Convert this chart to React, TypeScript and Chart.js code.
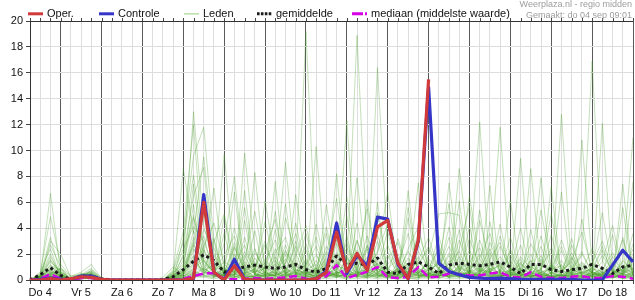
import React, { useEffect, useRef } from 'react';
import { Chart, registerables } from 'chart.js';

Chart.register(...registerables);

// ---- data -------------------------------------------------------------
// 6-hourly steps, 60 points; day labels sit on the noon step of each day
const dayLabels = ['Do 4', 'Vr 5', 'Za 6', 'Zo 7', 'Ma 8', 'Di 9', 'Wo 10', 'Do 11', 'Vr 12', 'Za 13', 'Zo 14', 'Ma 15', 'Di 16', 'Wo 17', 'Do 18'];
const stepsPerDay = 4;
const labelStep = 1; // noon step inside each day
const dayBoundaryStep = 3; // midnight step inside each day
const yMax = 20;
const yStep = 2;

const oper: (number | null)[] = [
  0, 0, 0.1, 0, 0.1, 0.25, 0.2, 0.05, 0, 0, 0, 0, 0, 0, 0, 0,
  0.15, 6.0, 0.6, 0, 1.1, 0.05, 0, 0, 0, 0, 0, 0, 0.1, 0.6, 3.7, 0.65,
  2.05, 0.75, 4.1, 4.6, 1.3, 0.1, 3.1, 15.5,
  null, null, null, null, null, null, null, null, null, null,
  null, null, null, null, null, null, null, null, null, null,
];

const controle: number[] = [
  0, 0.05, 0.15, 0.05, 0.05, 0.3, 0.3, 0.05, 0, 0, 0, 0, 0, 0, 0, 0,
  0.1, 6.6, 0.6, 0, 1.6, 0.05, 0, 0, 0, 0, 0, 0, 0.1, 0.7, 4.4, 0.5,
  1.9, 1.1, 4.85, 4.7, 1.2, 0.1, 3.0, 14.9, 1.3, 0.65, 0.4, 0.2, 0.15, 0.1, 0.15, 0.1,
  0.05, 0.05, 0.05, 0.05, 0.05, 0.05, 0, 0, 0, 1.15, 2.3, 1.4,
];

const gemiddelde: number[] = [
  0, 0.4, 0.95, 0.35, 0.05, 0.3, 0.3, 0.1, 0, 0, 0, 0, 0, 0.02, 0.25, 0.8,
  1.45, 1.95, 1.5, 0.6, 0.85, 1.0, 1.15, 1.0, 0.9, 1.0, 1.2, 0.8, 0.6, 0.9, 1.85, 1.15,
  1.3, 1.15, 1.7, 0.6, 0.5, 1.2, 1.4, 1.0, 0.5, 1.15, 1.3, 1.2, 1.1, 1.2, 1.4, 1.0,
  0.5, 1.2, 1.2, 0.8, 0.65, 0.8, 0.9, 1.2, 0.9, 0.5, 1.0, 1.15,
];

const mediaan: number[] = [
  0, 0.1, 0.45, 0.1, 0, 0.15, 0.15, 0, 0, 0, 0, 0, 0, 0, 0, 0.1,
  0.3, 0.5, 0.55, 0.1, 0.05, 0.1, 0.15, 0.1, 0.15, 0.2, 0.3, 0.1, 0.05, 0.3, 1.15, 0.15,
  0.4, 0.65, 1.0, 0.2, 0.15, 0.25, 1.0, 0.2, 0.25, 0.5, 0.45, 0.35, 0.35, 0.5, 0.6, 0.25,
  0.2, 0.6, 0.25, 0.15, 0.15, 0.25, 0.3, 0.15, 0.15, 0.3, 0.25, 0.1,
];

// ensemble members ("Leden"), one row per member, 15 days x 4 steps
const leden: number[][] = [
  [0,0.2,6.7,0.5, 0,0.2,0.4,0, 0,0,0,0, 0,0,0.2,1.5, 13.0,4.2,1.0,0.3, 2.5,0.8,0.2,1.4, 3.1,0.5,0,0.8, 1.2,0.4,2.8,0.6, 0.2,1.0,3.5,0.9, 0.3,2.4,4.1,0.8, 0.2,1.5,0.6,3.2, 1.0,0.3,0,2.4, 0.8,0.2,1.6,0.4, 0,0.9,2.2,0.5, 0.3,1.8,0.6,2.0],
  [0,0.5,4.9,1.2, 0.3,0.6,1.2,0.1, 0,0,0,0, 0,0,0.4,8.6, 3.6,9.5,2.1,0.5, 0.4,1.6,5.3,0.9, 0.3,2.2,1.0,19.2, 2.0,0.5,1.4,0.2, 0.9,2.6,1.1,0.3, 0,0.6,1.5,3.3, 0.7,0.2,1.2,0.5, 4.6,1.3,0.2,0.9, 0.1,0.5,3.4,0.7, 1.5,0.4,0,0.8, 2.6,0.5,0.2,0.7],
  [0,0.3,3.3,0.4, 0,0.3,0.5,0, 0,0.1,0,0, 0,0,0.8,3.7, 12.0,1.4,0.6,9.7, 1.2,0.3,0.9,2.7, 0.6,4.8,2.0,0.4, 0,1.9,6.3,1.1, 18.9,2.1,0.7,0.3, 0.8,0.2,0,1.9, 5.1,5.2,5.0,0.4, 0.3,0.8,1.1,0.2, 0,0.6,0.3,1.2, 0.5,1.7,0.4,0, 0.2,0.9,3.1,0.4],
  [0,0.1,3.0,2.0, 0.2,0.4,0.6,0, 0,0,0,0, 0,0,0,3.2, 9.6,11.8,3.0,0.2, 0,0.5,1.3,0.4, 2.4,0.9,0.3,1.6, 0.5,0.2,0.9,2.9, 0.6,0.3,16.4,2.2, 0.4,1.1,0.6,0.2, 1.8,0.4,8.6,2.0, 0.5,2.9,1.0,0.3, 1.4,0.2,0,0.6, 0.3,0.7,1.9,16.9, 1.5,0.2,0.5,0.9],
  [0,0.4,2.0,0.3, 0,0.2,0.3,0, 0,0,0,0, 0,0,0.1,2.0, 6.5,8.7,0.8,1.0, 4.0,1.1,0.5,0, 0.9,0.2,6.6,1.3, 0.7,3.6,0.4,0, 1.4,5.5,0.9,0.2, 0.1,0.7,7.5,0.5, 0.3,1.0,0.2,1.1, 12.2,0.6,0.2,1.5, 0.4,0.1,0.8,2.5, 0.9,0.2,0.6,0.3, 0.7,0.3,1.4,11.0],
  [0,0.2,1.5,0.6, 0,0.1,0.8,0.2, 0,0,0,0, 0,0.2,1.0,0.5, 3.0,6.4,1.6,0.4, 0.2,9.8,2.3,0.6, 0.1,0.5,1.2,0.3, 4.3,0.8,0.2,1.7, 0.4,1.2,2.0,6.8, 0.6,0.3,1.8,0.1, 0.9,2.6,0.8,0.3, 0.2,1.1,11.8,0.6, 0.3,1.5,0.2,0.1, 12.8,0.5,0.1,0.6, 0.2,0.6,0.8,0.3],
  [0,0.6,2.4,0.2, 0,0.5,0.4,0, 0,0,0,0, 0,0,0.3,0.6, 2.2,3.4,0.4,2.8, 8.0,0.6,0.2,1.1, 0.4,1.3,3.6,0.7, 0.2,0.5,1.3,0.4, 3.1,0.6,0.4,1.6, 2.9,0.4,0.6,0.9, 0.2,7.5,1.4,0.6, 0.9,0.3,0.6,0.2, 1.8,0.9,0.3,0.1, 0.4,0.2,10.8,1.3, 0.5,0.2,0.3,1.6],
  [0,0.3,1.8,0.4, 0,0.3,0.2,0, 0,0,0,0, 0,0,0.6,1.2, 4.8,2.0,7.1,0.6, 0.3,0.2,0.7,4.5, 1.0,9.1,0.8,0.5, 0.3,1.1,2.1,0.9, 0.2,0.8,0.5,0.3, 1.2,3.6,0.7,0.4, 0.1,0.4,0.9,6.5, 1.6,0.5,0.1,0.8, 0.5,8.6,0.7,0.2, 0.1,0.9,0.4,0.2, 12.1,0.8,0.1,0.4],
  [0,0.1,1.2,0.2, 0,0.2,0.5,0.1, 0,0,0,0, 0,0,0,0.4, 1.3,5.2,0.3,0.9, 0.6,3.3,0.4,0.2, 0.5,0.3,1.9,4.2, 0.8,0.3,0.4,0.2, 7.9,0.4,0.2,0.9, 0.3,0.6,2.2,1.0, 0.4,0.3,0.5,0.2, 0.6,7.3,0.3,0.5, 2.7,0.4,0.1,0.6, 0.2,0.5,1.1,0.3, 0.4,3.5,0.2,0.6],
  [0,0.2,0.9,0.5, 0,0.4,0.3,0, 0,0,0,0, 0,0,0.2,0.9, 7.4,1.1,0.2,0.4, 1.6,0.4,8.3,0.7, 0.2,0.8,0.4,0.6, 0.1,5.8,0.9,12.3, 0.6,0.2,1.3,0.5, 0.2,0.9,0.3,0.6, 3.4,0.6,0.2,0.8, 0.3,0.4,2.6,0.9, 0.2,0.3,0.9,5.1, 0.7,1.4,0.3,0.1, 0.6,0.2,0.9,0.5],
  [0,0.4,0.7,0.1, 0,0.2,0.1,0, 0,0,0,0, 0,0,0.5,0.3, 0.8,2.6,4.4,1.2, 0.5,0.2,0.3,6.1, 1.4,0.6,0.2,0.9, 0.6,0.4,8.2,0.5, 0.3,0.1,0.6,0.3, 0.5,0.2,1.3,2.4, 0.6,4.1,0.3,0.2, 0.4,0.9,0.5,6.2, 0.3,0.6,0.2,0.5, 2.3,0.3,0.6,0.9, 0.3,0.7,0.4,0.2],
  [0,0.1,0.6,0.3, 0,0.1,0.2,0, 0,0,0,0, 0,0,0,0.2, 0.5,0.9,0.4,0.2, 0.9,5.6,0.5,0.3, 7.6,0.3,0.6,0.2, 0.4,0.9,0.3,3.4, 0.2,2.7,0.4,0.1, 0.3,6.9,0.2,0.5, 0.3,0.6,3.9,0.2, 0.8,0.2,0.4,0.3, 9.4,0.2,0.5,0.3, 0.4,0.1,0.3,0.6, 0.2,0.4,5.6,0.3],
  [0,0.3,0.5,0.1, 0,0.3,0.4,0, 0,0,0.1,0, 0,0,0.1,0.5, 2.9,0.5,1.3,0.3, 0.2,0.6,3.8,0.2, 0.4,2.7,0.5,0.3, 0.9,0.2,0.5,0.8, 0.4,0.5,5.2,0.7, 0.2,4.8,0.4,0.3, 0.5,0.3,0.2,0.7, 0.2,0.6,4.3,0.4, 0.6,0.3,0.1,0.2, 0.5,3.2,0.2,0.4, 0.3,0.1,0.6,0.8],
  [0,0.1,0.4,0, 0,0.2,0.3,0, 0,0,0,0, 0,0,0.4,0.7, 1.9,0.3,0.2,0.5, 0.3,0.2,0.4,0.3, 0.6,0.4,3.0,0.4, 10.3,0.5,0.2,0.6, 0.3,0.7,0.3,0.2, 0.7,0.3,0.5,0.4, 0.2,0.4,0.6,0.3, 0.5,0.2,0.8,0.2, 0.4,0.2,0.6,0.3, 0.2,0.6,0.3,0.5, 0.4,1.2,0.3,0.2],
  [0,0.2,0.3,0.2, 0,0.1,0.2,0, 0,0,0,0, 0,0,0,0.1, 0.6,0.4,0.9,0.2, 0.1,0.3,0.2,0.5, 0.3,0.2,0.4,0.6, 0.2,0.7,0.3,0.2, 0.5,0.2,0.9,0.4, 0.1,0.5,0.3,0.2, 0.4,0.2,0.3,0.5, 0.3,0.1,0.2,0.6, 0.2,0.4,0.3,0.1, 0.6,0.2,0.4,0.3, 0.2,0.5,0.1,0.3],
  [0,0,0.2,0, 0,0.1,0.1,0, 0,0,0,0, 0,0,0,0, 0.4,0.8,0.3,0.1, 0.7,0.2,0.1,0.3, 0.2,0.5,0.1,0.3, 0.1,0.2,0.6,0.3, 0.2,0.3,0.2,0.5, 0.6,0.2,0.1,0.3, 0.2,0.5,0.3,0.1, 0.7,0.3,0.2,0.1, 0.3,0.1,0.4,0.2, 0.1,0.3,0.2,0.4, 0.6,0.2,0.3,0.1],
  [0,0.2,0.8,0.3, 0,0.2,0.2,0, 0,0,0,0, 0,0,0,0.3, 1.1,0.6,0.5,3.6, 0.4,0.9,0.6,0.2, 1.8,0.4,0.3,0.2, 0.5,2.2,0.4,0.7, 1.9,0.3,0.8,3.8, 0.5,0.2,0.4,0.2, 0.3,0.9,0.4,0.6, 2.0,0.5,0.3,0.4, 0.2,1.1,0.4,0.3, 0.3,0.4,0.9,0.2, 0.5,0.3,0.2,2.8],
  [0,0.1,0.5,0.2, 0,0.1,0.3,0, 0,0,0,0, 0,0,0.1,0.2, 0.9,1.8,0.6,0.3, 2.0,0.3,0.7,0.4, 0.3,0.7,0.2,0.5, 0.3,0.4,1.0,0.2, 0.7,0.4,0.3,0.6, 0.4,1.7,0.3,0.8, 1.2,0.2,0.5,0.4, 0.2,0.9,0.3,0.7, 0.8,0.2,1.9,0.4, 0.4,0.2,0.5,0.7, 0.2,0.6,0.3,0.4],
  [0,0.3,1.0,0.6, 0.1,0.3,0.6,0, 0,0,0,0, 0,0.1,0.3,0.8, 2.4,0.7,0.3,0.2, 0.8,0.4,0.2,1.0, 0.5,0.2,0.8,0.4, 1.5,0.3,0.6,0.4, 0.3,1.5,0.3,0.5, 0.2,0.3,0.9,0.4, 0.6,0.3,1.8,0.5, 0.4,0.7,0.2,0.3, 0.6,0.4,0.2,0.8, 0.3,0.8,0.2,0.3, 0.9,0.2,0.4,0.5],
  [0,0.1,0.3,0.1, 0,0.2,0.1,0, 0,0,0,0, 0,0,0,0.1, 0.3,0.2,0.1,0.2, 0.2,0.1,0.2,0.1, 0.1,0.2,0.3,0.1, 0.2,0.1,0.2,0.1, 0.1,0.2,0.1,0.2, 0.1,0.1,0.2,0.1, 0.2,0.1,0.1,0.2, 0.1,0.2,0.1,0.1, 0.1,0.1,0.2,0.1, 0.2,0.1,0.1,0.2, 0.1,0.2,0.1,0.1],
  [0,0.2,0.4,0.9, 0.3,0.4,0.7,0.1, 0,0,0,0, 0,0,0.2,0.4, 1.6,3.9,2.5,0.6, 0.4,2.2,0.8,3.0, 0.7,1.6,0.4,2.3, 0.6,1.2,0.3,1.8, 0.4,2.4,0.6,0.9, 1.6,0.5,2.8,0.6, 0.2,1.3,2.2,0.4, 3.1,0.6,1.2,0.4, 0.9,2.0,0.3,1.1, 0.6,1.8,0.4,1.0, 0.3,1.4,0.6,3.6],
  [0,0.1,0.2,0.1, 0,0.3,0.4,0, 0,0,0,0, 0,0,0.2,0.6, 3.3,1.2,0.7,1.4, 0.9,0.3,1.7,0.5, 3.9,0.5,1.1,0.3, 0.8,0.4,3.1,0.6, 0.5,0.3,1.2,0.4, 0.9,1.2,0.4,0.3, 2.7,0.5,0.8,1.5, 0.4,2.1,0.5,0.8, 0.3,0.7,2.6,0.4, 1.2,0.3,0.8,2.4, 0.6,0.3,1.5,0.7],
  [0,0.2,0.6,0.2, 0,0.2,0.3,0, 0,0,0,0, 0,0,0.1,0.3, 0.7,0.4,1.9,0.5, 2.9,0.7,0.3,0.6, 0.3,2.0,0.5,0.7, 0.4,0.2,0.6,1.2, 2.3,0.5,1.6,0.3, 0.7,0.3,0.5,1.4, 0.4,1.9,0.3,0.6, 1.3,0.3,0.7,2.2, 0.5,0.2,0.6,0.3, 0.8,2.1,0.5,0.4, 1.0,0.4,0.7,0.3],
  [0,0.1,0.3,0.4, 0.1,0.2,0.2,0, 0,0,0,0, 0,0,0,0.2, 0.5,2.3,0.4,0.2, 0.6,1.2,0.4,0.3, 0.9,0.3,0.7,1.1, 2.6,0.6,0.3,0.5, 0.3,0.9,0.4,1.9, 0.4,0.7,0.3,0.6, 0.6,0.2,1.1,0.3, 0.5,1.4,0.3,0.6, 1.3,0.5,0.8,0.2, 0.4,0.6,1.3,0.5, 0.3,0.8,0.4,1.2],
  [0,0.3,1.4,0.7, 0,0.3,0.5,0, 0,0,0,0, 0,0,0.6,0.9, 5.8,0.6,0.3,0.4, 0.2,0.5,0.9,0.3, 0.4,0.6,0.3,0.5, 0.3,0.5,0.4,0.3, 0.6,0.3,0.5,0.4, 0.3,0.4,0.6,0.2, 0.5,0.7,0.4,0.3, 0.7,0.2,0.5,0.4, 0.4,0.5,0.3,0.6, 0.2,0.4,0.6,0.5, 0.4,0.3,0.5,0.2],
  [0,0.2,0.5,0.2, 0,0.4,0.9,0, 0,0,0,0, 0,0,0.3,0.5, 1.8,0.5,3.2,0.4, 0.3,4.6,0.4,0.2, 0.5,0.2,0.4,2.8, 0.4,0.3,0.5,4.9, 0.6,0.4,0.2,0.3, 0.3,5.6,0.8,0.3, 0.5,0.2,0.3,4.2, 0.3,0.4,0.2,0.5, 0.2,3.9,0.4,0.3, 6.8,0.3,0.2,0.4, 0.5,0.2,7.4,0.3],
  [0,0.1,0.3,0.1, 0,0.1,0.2,0, 0,0,0,0, 0,0,0.1,0.2, 0.4,0.3,0.2,4.9, 0.5,0.2,0.3,0.6, 5.3,0.4,0.2,0.3, 0.6,0.2,0.3,0.4, 0.3,6.2,0.4,0.2, 0.5,0.3,0.2,0.4, 0.3,0.5,6.1,0.3, 0.2,0.6,0.3,0.4, 0.5,0.3,0.4,7.2, 0.3,0.5,0.2,0.3, 0.2,0.4,0.3,7.6],
  [0,0.2,0.4,0.3, 0,0.2,0.3,0, 0,0,0,0, 0,0,0.2,0.3, 0.6,0.4,0.3,0.7, 6.8,0.3,0.2,0.4, 0.3,5.9,0.4,0.2, 0.3,0.4,0.2,0.5, 0.4,0.2,6.0,0.3, 0.2,0.4,0.3,0.5, 0.4,0.3,0.5,0.2, 5.4,0.3,0.4,0.2, 0.3,0.4,0.2,0.3, 0.4,0.2,4.7,0.3, 0.3,0.5,0.2,0.4],
  [0,0.1,0.2,0.5, 0,0.1,0.4,0, 0,0,0,0, 0,0,0,0.1, 0.2,0.3,0.5,0.4, 0.3,0.5,0.2,0.4, 0.4,0.3,0.5,0.3, 0.2,0.4,0.3,0.2, 0.3,0.2,0.4,0.3, 0.2,0.3,0.2,0.5, 0.3,0.6,0.2,0.3, 0.4,0.2,0.3,0.5, 0.2,0.3,0.5,0.2, 0.4,0.3,0.2,0.3, 0.3,0.2,0.4,0.5],
  [0,0.3,0.7,0.4, 0,0.2,0.3,0, 0,0,0,0, 0,0,0.3,0.4, 2.7,1.5,0.5,0.3, 0.4,0.6,2.4,0.5, 0.6,0.3,0.6,0.4, 0.3,0.6,0.4,0.3, 4.4,0.5,0.3,0.4, 0.3,0.5,0.4,0.3, 0.4,0.3,0.4,0.6, 0.3,4.5,0.4,0.3, 0.5,0.3,0.4,0.3, 0.3,0.4,0.3,0.6, 0.4,0.3,3.3,0.4],
  [0,0.4,1.1,0.8, 0,0.3,0.6,0, 0,0,0,0, 0,0,0.5,2.4, 4.1,3.0,0.8,1.9, 3.4,0.7,1.2,0.5, 2.1,3.3,0.6,1.0, 0.4,2.6,1.5,0.6, 3.0,0.8,2.2,4.3, 1.1,0.5,3.8,0.9, 2.4,0.6,3.1,0.8, 1.7,3.6,0.5,1.9, 0.6,2.8,1.3,0.5, 3.1,0.8,2.0,0.6, 1.4,4.2,0.7,1.8],
  [0,0.2,0.8,0.3, 0,0.2,0.4,0, 0,0,0,0, 0,0,0.3,1.1, 2.6,5.5,1.4,0.6, 1.1,2.7,0.5,1.6, 0.6,1.3,4.4,0.8, 1.9,0.5,0.8,2.5, 0.7,3.4,0.6,1.2, 2.0,0.4,1.1,2.6, 0.8,3.3,0.7,1.4, 2.5,0.6,1.8,0.7, 4.0,0.5,1.2,2.1, 0.6,1.5,3.7,0.8, 2.3,0.6,1.1,0.9],
  [0,0.1,0.5,0.9, 0,0.1,0.3,0, 0,0,0,0, 0,0,0.1,0.5, 1.2,0.8,2.9,5.1, 1.3,0.4,2.1,0.8, 1.5,0.5,0.9,3.6, 0.8,4.1,0.6,0.4, 1.7,0.6,0.9,0.5, 3.2,0.8,0.5,1.6, 0.9,0.4,2.4,5.7, 0.6,1.6,2.9,0.5, 1.2,0.7,5.4,1.0, 0.5,2.7,0.6,1.3, 3.0,0.9,0.5,1.7],
  [0,0.3,1.6,0.2, 0,0.4,0.2,0, 0,0,0,0, 0,0,0.2,0.7, 3.8,1.6,0.5,0.8, 0.6,1.9,0.4,2.2, 4.7,0.8,1.4,0.5, 0.9,0.6,4.6,1.3, 0.5,1.8,0.7,2.7, 0.6,2.2,0.9,0.4, 1.5,0.7,0.6,2.3, 0.8,2.4,0.6,3.3, 0.7,1.5,0.4,0.9, 2.6,0.6,1.4,0.5, 0.8,2.1,0.5,1.3],
  [0,0.2,0.4,0.6, 0.2,0.5,0.3,0, 0,0,0,0, 0,0,0.4,1.8, 5.0,0.9,0.4,0.6, 2.6,0.5,0.8,0.4, 0.7,2.3,0.5,1.2, 3.3,0.7,0.5,0.9, 1.2,0.4,3.0,0.6, 0.4,1.3,0.6,0.8, 0.5,2.1,0.9,0.6, 1.0,0.5,3.4,0.8, 1.6,0.6,0.8,3.5, 0.7,0.5,1.2,0.6, 1.9,0.7,0.5,2.4],
  [0,0.1,0.3,0.2, 0,0.1,0.2,0, 0,0,0,0, 0,0,0.1,0.4, 0.9,1.5,0.6,0.3, 0.5,0.8,1.4,0.6, 0.3,0.9,0.5,0.7, 0.6,0.3,1.1,0.8, 0.4,1.0,0.5,0.3, 0.9,0.6,1.4,0.5, 0.7,0.4,1.0,0.6, 0.5,1.2,0.4,0.7, 0.9,0.5,0.6,1.0, 0.4,0.8,0.5,0.9, 0.6,0.4,1.1,0.5],
  [0,0.2,0.6,0.4, 0,0.2,0.5,0, 0,0,0,0, 0,0,0.2,0.6, 1.5,0.7,1.2,0.9, 0.4,1.4,0.6,0.9, 1.2,0.4,0.8,0.5, 0.7,1.6,0.5,0.9, 0.6,0.8,1.3,0.5, 0.8,0.5,0.7,1.2, 0.6,0.9,0.5,1.1, 0.8,0.6,1.3,0.5, 0.7,1.0,0.6,0.8, 1.1,0.5,0.9,0.6, 0.5,1.2,0.7,0.9],
  [0,0.3,2.7,1.0, 0,0.3,0.7,0.1, 0,0,0,0, 0,0,0.7,2.9, 8.1,2.4,0.7,0.4, 1.0,6.9,0.6,1.3, 0.5,0.7,2.6,0.6, 0.5,1.4,0.6,6.4, 0.9,0.5,0.8,0.6, 0.4,0.9,0.5,0.7, 1.3,5.9,0.6,0.5, 0.8,0.5,0.7,0.6, 0.4,0.6,7.9,0.5, 0.7,0.4,0.6,0.8, 5.2,0.6,0.5,0.7],
];

const headerLines = ['Weerplaza.nl - regio midden', 'Gemaakt: do 04 sep 09:01'];

// ---- styles -----------------------------------------------------------
const FONT = 'Arial, "Liberation Sans", sans-serif';
const RED = '#d13a3a';
const BLUE = '#3535c8';
const BLACK = '#1a1a1a';
const MAGENTA = '#d800e6';
const MEMBER = 'rgba(70,160,40,0.32)';
const MEMBER_LEGEND = '#b9dfaa';

const legendItems = [
  { label: 'Oper.', color: RED, width: 3, dash: [] as number[], x: 28 },
  { label: 'Controle', color: BLUE, width: 3, dash: [] as number[], x: 99 },
  { label: 'Leden', color: MEMBER_LEGEND, width: 1.5, dash: [] as number[], x: 184 },
  { label: 'gemiddelde', color: BLACK, width: 3, dash: [2.6, 1.3], x: 257 },
  { label: 'mediaan (middelste waarde)', color: MAGENTA, width: 3, dash: [11, 2, 2, 4], x: 352 },
];

const xLabels = Array.from({ length: dayLabels.length * stepsPerDay }, (_, i) =>
  i % stepsPerDay === labelStep ? dayLabels[Math.floor(i / stepsPerDay)] : ''
);

const overlayPlugin = {
  id: 'overlay',
  afterDraw(chart: any) {
    const { ctx, chartArea, scales } = chart;
    ctx.save();
    // small tick marks above the top border
    ctx.strokeStyle = '#444';
    ctx.lineWidth = 1;
    for (let i = 0; i < xLabels.length; i++) {
      const x = Math.round(scales.x.getPixelForValue(i)) + 0.5;
      ctx.beginPath();
      ctx.moveTo(x, chartArea.top - 3);
      ctx.lineTo(x, chartArea.top);
      ctx.stroke();
    }
    // legend
    ctx.font = `11px ${FONT}`;
    ctx.textBaseline = 'alphabetic';
    ctx.textAlign = 'left';
    for (const it of legendItems) {
      ctx.beginPath();
      ctx.setLineDash(it.dash);
      ctx.lineCap = 'butt';
      ctx.strokeStyle = it.color;
      ctx.lineWidth = it.width;
      ctx.moveTo(it.x, 13.8);
      ctx.lineTo(it.x + 15, 13.8);
      ctx.stroke();
      ctx.setLineDash([]);
      ctx.fillStyle = '#111';
      ctx.fillText(it.label, it.x + 19, 17.3);
    }
    // header
    ctx.font = `9px ${FONT}`;
    ctx.fillStyle = '#9d9d9d';
    ctx.textAlign = 'right';
    ctx.fillText(headerLines[0], 632, 7);
    ctx.fillText(headerLines[1], 632, 18.3);
    ctx.restore();
  },
};

export default function App() {
  const ref = useRef<HTMLCanvasElement>(null);
  useEffect(() => {
    document.body.style.margin = '0';
    const line = (data: (number | null)[], color: string, width: number, dash: number[] = []) => ({
      data,
      borderColor: color,
      backgroundColor: color,
      borderWidth: width,
      borderDash: dash,
      borderCapStyle: 'butt' as const,
      borderJoinStyle: 'round' as const,
      pointRadius: 0,
      fill: false,
      tension: 0,
      spanGaps: false,
    });
    const datasets: any[] = [
      { label: 'Oper.', ...line(oper, RED, 3.2) },
      { label: 'Controle', ...line(controle, BLUE, 3.2) },
      { label: 'gemiddelde', ...line(gemiddelde, BLACK, 3, [3, 3]) },
      { label: 'mediaan (middelste waarde)', ...line(mediaan, MAGENTA, 2.5, [8, 4]) },
      ...leden.map((m, k) => ({ label: `Leden ${k + 1}`, ...line(m, MEMBER, 1) })),
    ];
    const chart = new Chart(ref.current!, {
      type: 'line',
      data: { labels: xLabels, datasets },
      options: {
        responsive: false,
        animation: false,
        devicePixelRatio: 1,
        layout: { padding: { top: 21, right: 1, left: 0, bottom: 0 } },
        plugins: { legend: { display: false }, tooltip: { enabled: false }, title: { display: false } },
        scales: {
          x: {
            type: 'category',
            offset: false,
            grid: {
              color: (c: any) => ((c.index - dayBoundaryStep) % stepsPerDay === 0 ? '#5a5a5a' : '#dddddd'),
              tickColor: '#444',
              tickLength: 4,
              offset: false,
            },
            border: { color: '#333' },
            ticks: {
              autoSkip: false,
              maxRotation: 0,
              minRotation: 0,
              color: '#111',
              padding: 2,
              font: { family: FONT, size: 11 },
            },
            afterFit: (s: any) => { s.height = 20; },
          },
          y: {
            min: 0,
            max: yMax,
            ticks: { stepSize: yStep, color: '#111', padding: 3, font: { family: FONT, size: 11 } },
            grid: {
              color: (c: any) => (c.tick && c.tick.value === yMax ? '#333' : '#dddddd'),
              tickColor: '#444',
              tickLength: 4,
            },
            border: { color: '#333' },
            afterFit: (s: any) => { s.width = 30; },
          },
        },
      },
      plugins: [overlayPlugin],
    });
    return () => chart.destroy();
  }, []);
  return (
    <div style={{ width: 635, height: 300 }}>
      <canvas ref={ref} width={635} height={300} style={{ display: 'block' }} />
    </div>
  );
}
